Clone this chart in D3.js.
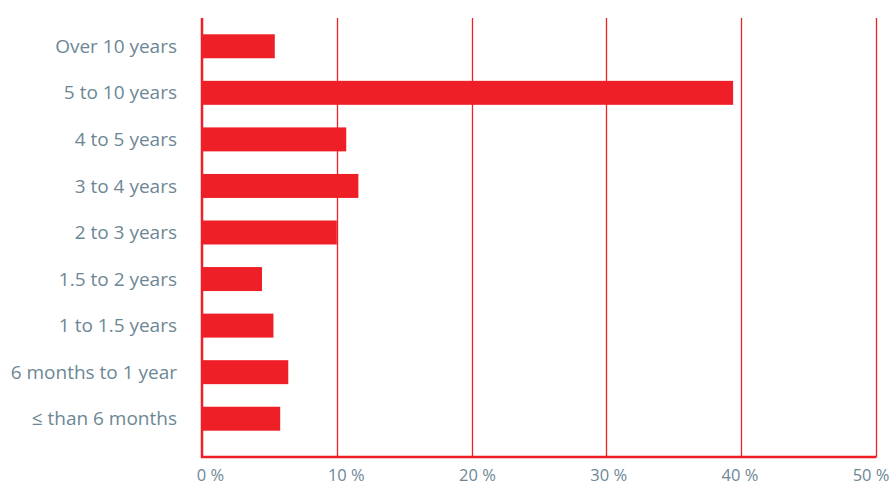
<!DOCTYPE html>
<html><head><meta charset="utf-8">
<script src="https://cdn.jsdelivr.net/npm/d3@7"></script>
<style>body{margin:0;background:#fff}svg{display:block}</style>
</head><body>
<script>
const categories = ["Over 10 years","5 to 10 years","4 to 5 years","3 to 4 years","2 to 3 years","1.5 to 2 years","1 to 1.5 years","6 months to 1 year","≤ than 6 months"];
const values = [5.4, 39.4, 10.7, 11.6, 10.0, 4.45, 5.3, 6.4, 5.8];
const ticks = [0,10,20,30,40,50];

const W = 890, H = 482;
const red = "#ee1f26", txt = "#6d8795";
const svg = d3.select("body").append("svg").attr("width",W).attr("height",H);
const x = d3.scaleLinear().domain([0,50]).range([202,876]);
const xLabel = d3.scaleLinear().domain([0,50]).range([196.7,852.7]);
const y = d3.scaleBand().domain(categories).range([23,442]).paddingInner(0.485).paddingOuter(0.2425);
const yTop = 18, yBottom = 457;

// grid lines
svg.append("g").selectAll("line").data(ticks.slice(1)).join("line")
  .attr("x1",d=>Math.round(x(d))+0.5).attr("x2",d=>Math.round(x(d))+0.5)
  .attr("y1",yTop).attr("y2",yBottom)
  .attr("stroke",red).attr("stroke-width",1.3);

// bars
svg.append("g").selectAll("rect").data(values).join("rect")
  .attr("x",x(0)).attr("y",(d,i)=>y(categories[i]))
  .attr("width",d=>x(d)-x(0)).attr("height",y.bandwidth())
  .attr("fill",red);

// axes lines
svg.append("line").attr("x1",x(0)).attr("x2",x(0)).attr("y1",yTop).attr("y2",yBottom+1)
  .attr("stroke",red).attr("stroke-width",2.5);
svg.append("line").attr("x1",x(0)-1).attr("x2",x(50)+0.5).attr("y1",yBottom).attr("y2",yBottom)
  .attr("stroke",red).attr("stroke-width",2.5);

// category labels
svg.append("g").selectAll("text").data(categories).join("text")
  .attr("x",177).attr("y",d=>y(d)+y.bandwidth()/2)
  .attr("dy","0.35em").attr("text-anchor","end")
  .attr("font-family","'Open Sans', sans-serif").attr("font-size",19)
  .attr("fill",txt).text(d=>d);

// tick labels
svg.append("g").selectAll("text").data(ticks).join("text")
  .attr("x",d=>xLabel(d)).attr("y",481).attr("text-anchor","start")
  .attr("font-family","'Open Sans', sans-serif").attr("font-size",16.5)
  .attr("fill",txt).text(d=>d+" %");
</script>
</body></html>
